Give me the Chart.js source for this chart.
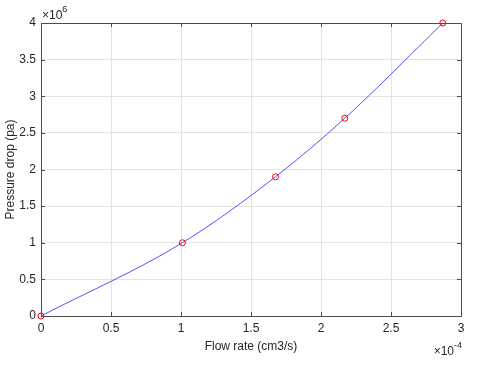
<!DOCTYPE html>
<html>
<head>
<meta charset="utf-8">
<script src="https://cdn.jsdelivr.net/npm/chart.js@4/dist/chart.umd.min.js"></script>
<style>
  html, body { margin: 0; padding: 0; background: #fff; }
  #wrap { width: 480px; height: 384px; }
</style>
</head>
<body>
<div id="wrap"><canvas id="myChart" width="480" height="384"></canvas></div>
<script>
// flow rate in units of 1e-4 cm3/s, pressure drop in units of 1e6 pa
const flowRate = [0, 1.01, 1.675, 2.17, 2.87]
const pressureDrop = [0, 1.0, 1.9, 2.7, 4.0]
const xTicks = [0, 0.5, 1, 1.5, 2, 2.5, 3]
const yTicks = [0, 0.5, 1, 1.5, 2, 2.5, 3, 3.5, 4]
const xExponent = '-4'
const yExponent = '6'

const axisColour = '#4d4d4d'
const textColour = '#262626'
const fontFamily = '"Liberation Sans", Arial, sans-serif'

// matlab style box, inward ticks and exponent labels
const matlabAxes = {
    id: 'matlabAxes',
    afterDraw(chart) {
        const ctx = chart.ctx
        const a = chart.chartArea
        const xs = chart.scales.x
        const ys = chart.scales.y
        ctx.save()
        ctx.strokeStyle = axisColour
        ctx.lineWidth = 1
        ctx.strokeRect(Math.round(a.left) + 0.5, Math.round(a.top) + 0.5,
            Math.round(a.right - a.left), Math.round(a.bottom - a.top))
        ctx.beginPath()
        for (let t of xTicks) {
            let px = Math.round(xs.getPixelForValue(t)) + 0.5
            ctx.moveTo(px, a.bottom); ctx.lineTo(px, a.bottom - 4)
            ctx.moveTo(px, a.top); ctx.lineTo(px, a.top + 4)
        }
        for (let t of yTicks) {
            let py = Math.round(ys.getPixelForValue(t)) + 0.5
            ctx.moveTo(a.left, py); ctx.lineTo(a.left + 4, py)
            ctx.moveTo(a.right, py); ctx.lineTo(a.right - 4, py)
        }
        ctx.stroke()

        ctx.fillStyle = textColour
        ctx.textBaseline = 'alphabetic'
        ctx.textAlign = 'left'
        // y exponent, top left
        ctx.font = '12px ' + fontFamily
        ctx.fillText('\u00d710', a.left + 1, a.top - 4)
        let w = ctx.measureText('\u00d710').width
        ctx.font = '9px ' + fontFamily
        ctx.fillText(yExponent, a.left + 1 + w, a.top - 11)
        // x exponent, bottom right
        ctx.font = '12px ' + fontFamily
        let w2 = ctx.measureText('\u00d710').width
        ctx.font = '9px ' + fontFamily
        let w3 = ctx.measureText(xExponent).width
        let x0 = a.right - w2 - w3 + 1
        ctx.font = '12px ' + fontFamily
        ctx.fillText('\u00d710', x0, a.bottom + 39)
        ctx.font = '9px ' + fontFamily
        ctx.fillText(xExponent, x0 + w2, a.bottom + 32)
        ctx.restore()
    }
}

const fmt = (v) => String(Number(v))

const ctx = document.getElementById('myChart').getContext('2d')
const myChart = new Chart(ctx, {
    type: 'line',
    data: {
        datasets: [{
            data: flowRate.map((x, i) => ({x: x, y: pressureDrop[i]})),
            borderColor: 'rgba(40, 40, 255, 0.8)',
            borderWidth: 1,
            cubicInterpolationMode: 'monotone',
            pointRadius: 3,
            pointBorderColor: '#ff0000',
            pointBackgroundColor: 'rgba(0,0,0,0)',
            pointBorderWidth: 1,
            clip: false,
            fill: false
        }]
    },
    options: {
        responsive: false,
        animation: false,
        layout: {
            padding: {left: 0, right: 19, top: 23, bottom: 30}
        },
        plugins: {
            legend: {display: false},
            tooltip: {enabled: false}
        },
        scales: {
            x: {
                type: 'linear',
                min: 0,
                max: 3,
                afterBuildTicks: (scale) => { scale.ticks = xTicks.map(v => ({value: v})) },
                afterFit: (scale) => { scale.height = 38 },
                grid: {color: '#e3e3e3', drawTicks: false},
                border: {display: false},
                ticks: {
                    color: textColour,
                    padding: 5,
                    maxRotation: 0,
                    callback: fmt,
                    font: {family: fontFamily, size: 12}
                },
                title: {
                    display: true,
                    text: 'Flow rate (cm3/s)',
                    color: textColour,
                    font: {family: fontFamily, size: 12},
                    padding: {top: 2, bottom: 0}
                }
            },
            y: {
                type: 'linear',
                min: 0,
                max: 4,
                afterBuildTicks: (scale) => { scale.ticks = yTicks.map(v => ({value: v})) },
                afterFit: (scale) => { scale.width = 41 },
                grid: {color: '#e3e3e3', drawTicks: false},
                border: {display: false},
                ticks: {
                    color: textColour,
                    padding: 5,
                    callback: fmt,
                    font: {family: fontFamily, size: 12}
                },
                title: {
                    display: true,
                    text: 'Pressure drop (pa)',
                    color: textColour,
                    font: {family: fontFamily, size: 12},
                    padding: {top: 3, bottom: 0}
                }
            }
        }
    },
    plugins: [matlabAxes]
})
</script>
</body>
</html>
